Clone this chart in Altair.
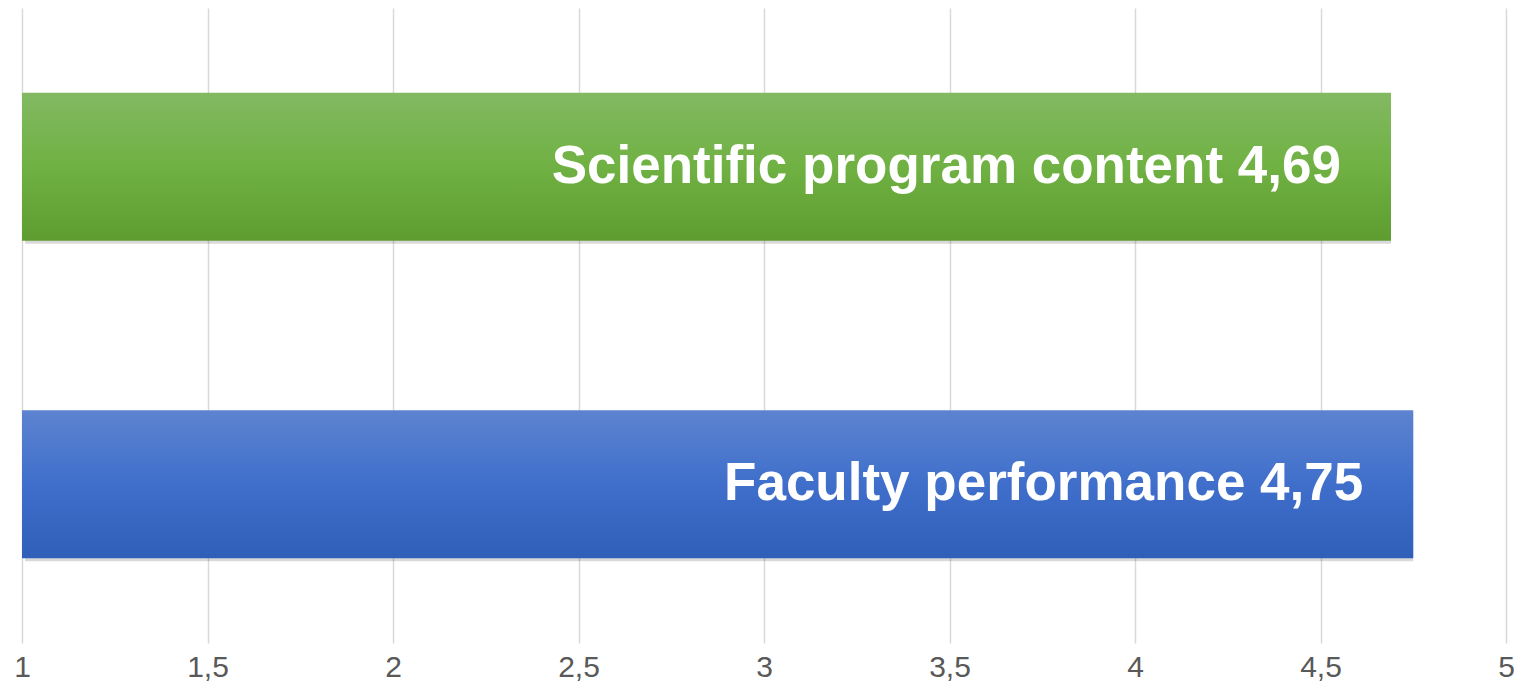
import altair as alt
import pandas as pd

categories = ["Scientific program content", "Faculty performance"]
values = [4.69, 4.75]
value_labels = ["4,69", "4,75"]
base = [1, 1]
ticks = [1, 1.5, 2, 2.5, 3, 3.5, 4, 4.5, 5]

df = pd.DataFrame({
    "cat": categories,
    "value": values,
    "start": base,
    "label": [f"{c} {v}" for c, v in zip(categories, value_labels)],
})

y_enc = alt.Y("cat:N", sort=categories, axis=None,
              scale=alt.Scale(paddingInner=0.534, paddingOuter=0.267))
x_enc = alt.X("start:Q",
              scale=alt.Scale(domain=[1, 5], zero=False, nice=False),
              axis=alt.Axis(values=ticks,
                            labelExpr="replace(format(datum.value, '~g'), '.', ',')",
                            title=None, domain=False, ticks=False,
                            labelFlush=False,
                            labelFontSize=30, labelColor="#595959",
                            labelFont="Liberation Sans", labelPadding=24,
                            labelBaseline="middle",
                            gridColor="#d9d9d9", gridWidth=1.5))

green = alt.Gradient(gradient="linear", x1=0, y1=0, x2=0, y2=1,
                     stops=[alt.GradientStop(color="#82b962", offset=0),
                            alt.GradientStop(color="#70b143", offset=0.5),
                            alt.GradientStop(color="#5e9c30", offset=1)])
blue = alt.Gradient(gradient="linear", x1=0, y1=0, x2=0, y2=1,
                    stops=[alt.GradientStop(color="#5d83d0", offset=0),
                           alt.GradientStop(color="#3f6fcb", offset=0.5),
                           alt.GradientStop(color="#2f5fb8", offset=1)])

base_chart = alt.Chart(df)

shadow = base_chart.mark_bar(color="#000000", opacity=0.15, xOffset=3, yOffset=3).encode(
    x=x_enc, x2="value:Q", y=y_enc)

bar_g = base_chart.transform_filter(alt.datum.cat == categories[0]).mark_bar(fill=green).encode(
    x=x_enc, x2="value:Q", y=y_enc)
bar_b = base_chart.transform_filter(alt.datum.cat == categories[1]).mark_bar(fill=blue).encode(
    x=x_enc, x2="value:Q", y=y_enc)

text = base_chart.mark_text(align="right", baseline="middle", dx=-50, dy=0,
                            color="white", fontSize=53, fontWeight="bold",
                            font="Liberation Sans").encode(
    x=alt.X("value:Q"), y=y_enc, text="label:N")

chart = alt.layer(shadow, bar_g, bar_b, text).properties(
    width=1484, height=635,
    autosize=alt.AutoSizeParams(type="none"),
    padding={"left": 14, "top": 0, "right": 8, "bottom": 44},
).configure_view(stroke=None)

chart.save("out.html", embed_options={"renderer": "svg", "actions": False})
